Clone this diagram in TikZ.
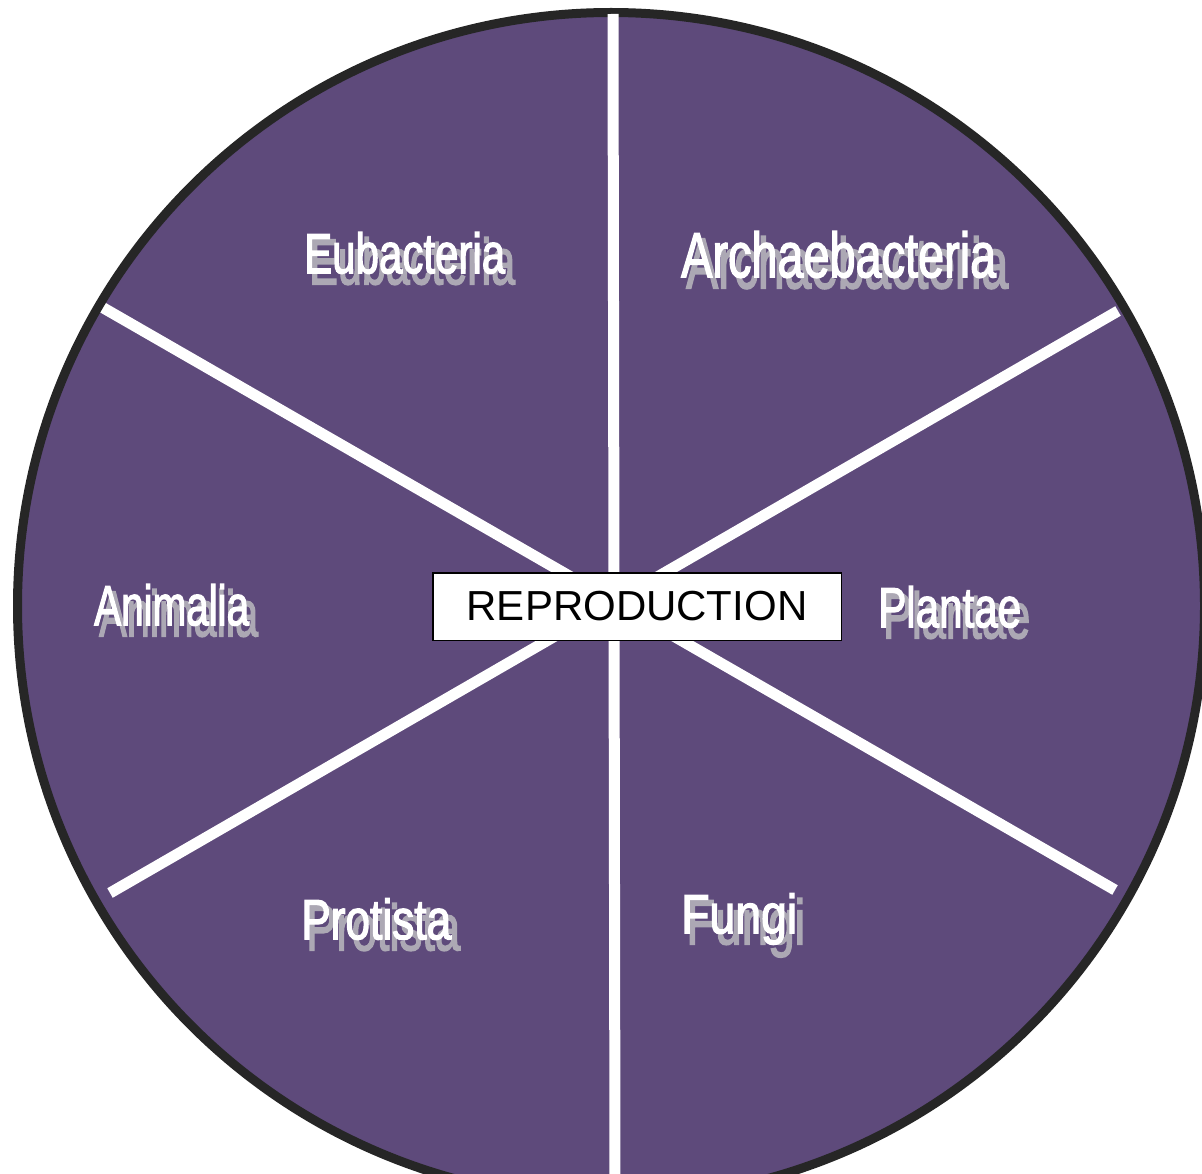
\documentclass[tikz,border=0pt]{standalone}
\usepackage{fontspec}
\setmainfont{Liberation Sans}
\newfontfamily\kfont[FakeBold=2.5]{Liberation Sans}
\definecolor{wheel}{RGB}{94,74,123}
\definecolor{rim}{RGB}{38,38,38}
\definecolor{shade}{RGB}{172,168,180}
\tikzset{
  divider/.style={draw=white, line width=11pt},
  rimline/.style={draw=rim, line width=9pt},
  kingdom/.style={inner sep=0pt, anchor=north west, text=white},
  kshadow/.style={inner sep=0pt, anchor=north west, text=shade},
  centerbox/.style={draw=black, line width=1.5pt, fill=white,
    minimum width=408.5pt, minimum height=67.5pt, inner sep=0pt,
    font=\fontsize{42}{42}\selectfont}
}
% name, x, y, width, height, shadow width, shadow height, text
\newcommand{\kingdomlabel}[8]{%
  \node[kshadow] (#1s) at (#2+5,#3+5) {\resizebox{#6pt}{#7pt}{\kfont\fontsize{56}{56}\selectfont #8}};
  \node[kingdom] (#1) at (#2,#3) {\resizebox{#4pt}{#5pt}{\kfont\fontsize{56}{56}\selectfont #8}};
}
\begin{document}
\begin{tikzpicture}[x=1pt,y=-1pt]
  \useasboundingbox (0,0) rectangle (1202,1174);
  \clip (0,0) rectangle (1202,1174);
  % wheel
  \fill[wheel] (611,606) circle (594);
  % dividers
  \coordinate (ul) at (100,306);
  \coordinate (lr) at (1115,890);
  \coordinate (ur) at (1118,311);
  \coordinate (ll) at (110,893);
  \coordinate (top) at (613,14);
  \coordinate (bot) at (615,1180);
  \draw[divider] (ul) -- (lr);
  \draw[divider] (ur) -- (ll);
  \draw[rimline] (611,606) circle (593.5);
  \draw[divider] (top) -- (bot);
  % centre label
  \node[centerbox] (repro) at (637,606.5) {REPRODUCTION};
  % kingdoms
  \kingdomlabel{eub}{304}{232}{201}{41}{206}{47}{Eubacteria}
  \kingdomlabel{arc}{681}{231}{315}{46}{322}{52}{Archaebacteria}
  \kingdomlabel{ani}{94}{584}{155}{41}{159}{47}{Animalia}
  \kingdomlabel{pla}{878}{586}{143}{41}{147}{47}{Plantae}
  \kingdomlabel{pro}{301}{898}{150}{41}{154}{47}{Protista}
  \kingdomlabel{fun}{681}{893}{116}{40}{119}{46}{Fungi}
\end{tikzpicture}
\end{document}
